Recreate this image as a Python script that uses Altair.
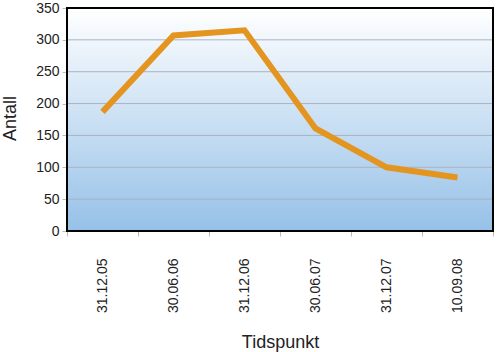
import altair as alt
import pandas as pd

dates = ["31.12.05", "30.06.06", "31.12.06", "30.06.07", "31.12.07", "10.09.08"]
antall = [187, 307, 315, 161, 100, 84]
grid_values = [50, 100, 150, 200, 250, 300, 350]
y_ticks = [0, 50, 100, 150, 200, 250, 300, 350]

df = pd.DataFrame({"Tidspunkt": dates, "Antall": antall})
grid_df = pd.DataFrame({"v": grid_values})

W, H = 426, 223
FONT = "Liberation Sans"

yscale = alt.Scale(domain=[0, 350], nice=False)
yaxis = alt.Axis(title="Antall", values=y_ticks, labelOverlap=False,
                 tickSize=5, tickColor="#bbbbbb", labelPadding=3,
                 domain=False, grid=False,
                 labelFont=FONT, labelFontSize=14, labelColor="#222222",
                 titleFont=FONT, titleFontSize=18, titleFontWeight="normal",
                 titleColor="#222222", titleX=-57, titleY=110,
                 titleAlign="center", titleBaseline="middle", titleAngle=270)

gradient = alt.LinearGradient(
    gradient="linear",
    stops=[alt.GradientStop(color="#ffffff", offset=0),
           alt.GradientStop(color="#96c1e8", offset=1)],
    x1=0, x2=0, y1=0, y2=1,
)

one = pd.DataFrame({"a": [0]})

bg = alt.Chart(one).mark_rect(color=gradient).encode(
    x=alt.value(0), x2=alt.value(W), y=alt.value(0), y2=alt.value(H)
)

grid = alt.Chart(grid_df).mark_rule(color="#a9b3c1", strokeWidth=1).encode(
    y=alt.Y("v:Q", scale=yscale, axis=yaxis)
)

line = alt.Chart(df).mark_line(
    color="#e4951f", strokeWidth=6, strokeCap="butt", strokeJoin="miter"
).encode(
    x=alt.X("Tidspunkt:N", sort=dates,
            scale=alt.Scale(type="band", paddingInner=0, paddingOuter=0),
            axis=alt.Axis(title="Tidspunkt", labelAngle=-90, tickBand="extent",
                          labelPadding=22, tickSize=5, tickColor="#bbbbbb",
                          domain=False, grid=False,
                          labelFont=FONT, labelFontSize=14, labelColor="#222222",
                          titleFont=FONT, titleFontSize=18, titleFontWeight="normal",
                          titleColor="#222222", titleY=111, titleBaseline="middle")),
    y=alt.Y("Antall:Q", scale=yscale, axis=yaxis),
)

border = alt.Chart(one).mark_rect(
    fillOpacity=0, stroke="#000000", strokeWidth=2
).encode(x=alt.value(0), x2=alt.value(W), y=alt.value(0), y2=alt.value(H))

chart = alt.layer(bg, grid, line, border).properties(
    width=W, height=H,
    padding={"left": 67, "top": 8, "right": 7, "bottom": 121},
    autosize=alt.AutoSizeParams(type="none"),
    background="white",
).configure_view(strokeWidth=0)

chart.save("out.html", embed_options={"renderer": "svg", "actions": False})
